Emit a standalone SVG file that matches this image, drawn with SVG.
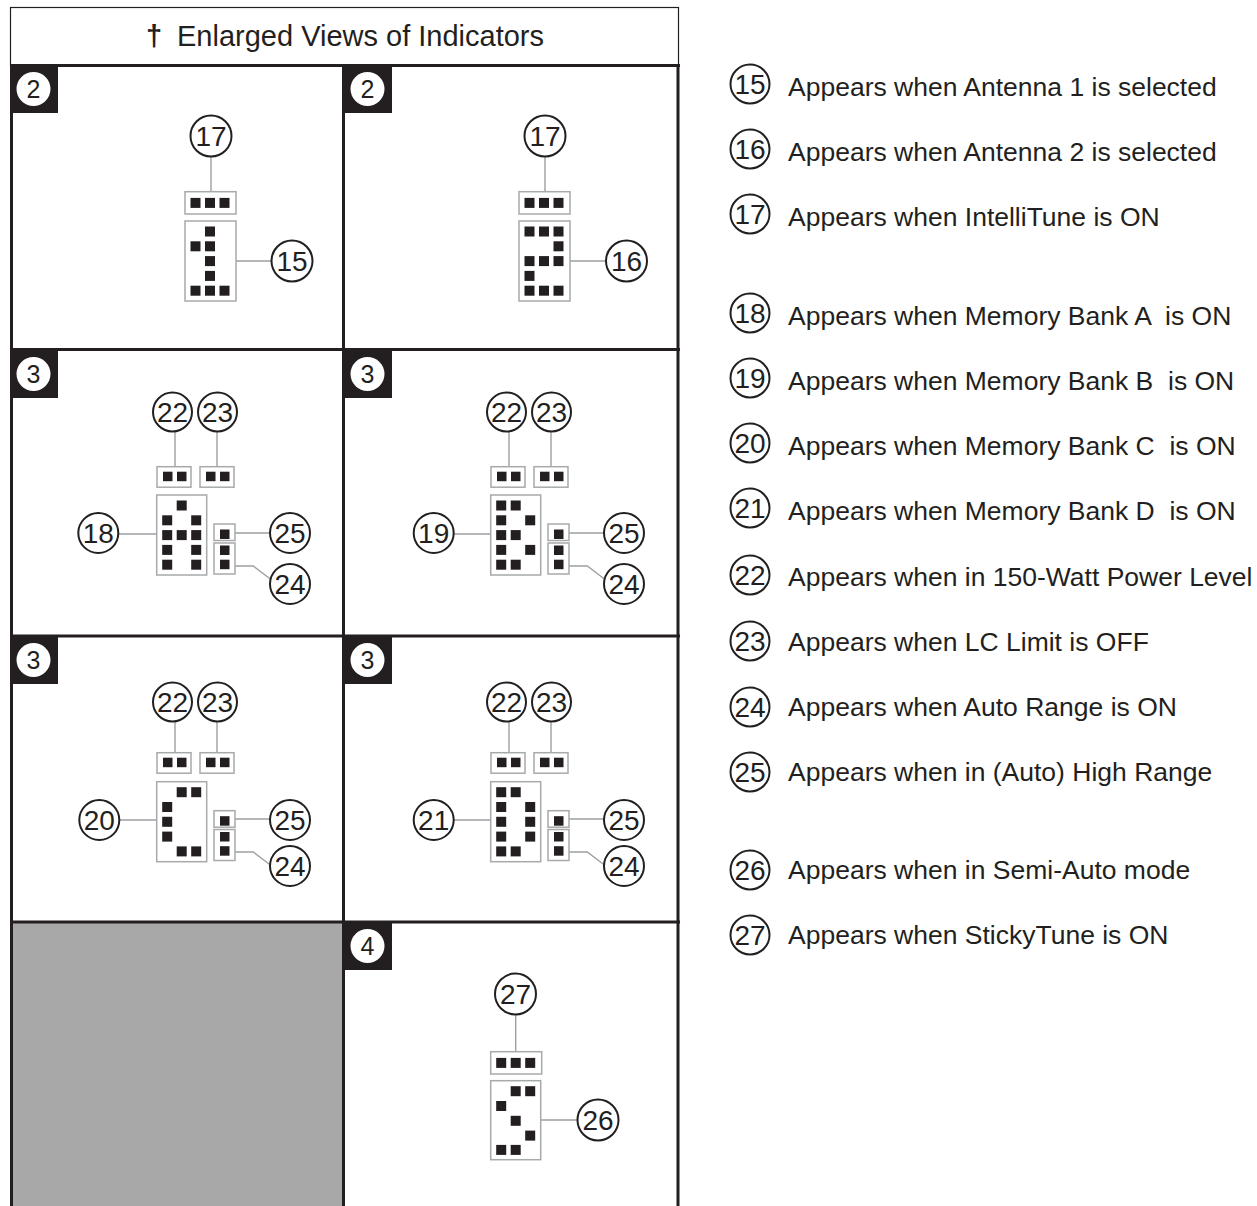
<svg xmlns="http://www.w3.org/2000/svg" xmlns:xlink="http://www.w3.org/1999/xlink" width="1257" height="1206" viewBox="0 0 1257 1206">
<style>
.t{font-family:"Liberation Sans",Arial,sans-serif;fill:#231f20}
.num{font-size:28px;text-anchor:middle}
.bn{font-size:25px;text-anchor:middle}
.leg{font-size:26.5px;white-space:pre}
.cir{fill:#fff;stroke:#231f20;stroke-width:2}
.box{fill:#fff;stroke:#a7a9ac;stroke-width:1.5}
.ln{stroke:#9d9fa2;stroke-width:1.4;fill:none}
.grid{stroke:#231f20;stroke-width:3;fill:none}
</style>
<defs>
<rect id="px" width="10" height="10" fill="#231f20"/>
<rect id="sp" width="9.5" height="9.5" fill="#231f20"/>
<g id="tri"><rect class="box" x="0" y="0" width="51" height="22.3"/><use href="#px" x="5.5" y="6.2"/><use href="#px" x="20" y="6.2"/><use href="#px" x="34.5" y="6.2"/></g>
<g id="duo"><rect class="box" x="0" y="0" width="34" height="20.5"/><use href="#sp" x="6" y="5"/><use href="#sp" x="20" y="5"/></g>
<g id="b25"><rect class="box" x="0" y="0" width="21" height="16.5"/><use href="#sp" x="6" y="5.5"/></g>
<g id="b24"><rect class="box" x="0" y="0" width="21" height="31"/><use href="#sp" x="6" y="2.5"/><use href="#sp" x="6" y="16.7"/></g>
<g id="d1"><rect class="box" x="0" y="0" width="51" height="80"/>
<use href="#px" x="20" y="5.5"/><use href="#px" x="5.5" y="20.3"/><use href="#px" x="20" y="20.3"/><use href="#px" x="20" y="35.1"/><use href="#px" x="20" y="49.9"/><use href="#px" x="5.5" y="64.7"/><use href="#px" x="20" y="64.7"/><use href="#px" x="34.5" y="64.7"/></g>
<g id="d2"><rect class="box" x="0" y="0" width="51" height="80"/>
<use href="#px" x="5.5" y="5.5"/><use href="#px" x="20" y="5.5"/><use href="#px" x="34.5" y="5.5"/><use href="#px" x="34.5" y="20.3"/><use href="#px" x="5.5" y="35.1"/><use href="#px" x="20" y="35.1"/><use href="#px" x="34.5" y="35.1"/><use href="#px" x="5.5" y="49.9"/><use href="#px" x="5.5" y="64.7"/><use href="#px" x="20" y="64.7"/><use href="#px" x="34.5" y="64.7"/></g>
<g id="dA"><rect class="box" x="0" y="0" width="50" height="80"/>
<use href="#px" x="20" y="5.5"/><use href="#px" x="5.5" y="20.3"/><use href="#px" x="34.5" y="20.3"/><use href="#px" x="5.5" y="35.1"/><use href="#px" x="20" y="35.1"/><use href="#px" x="34.5" y="35.1"/><use href="#px" x="5.5" y="49.9"/><use href="#px" x="34.5" y="49.9"/><use href="#px" x="5.5" y="64.7"/><use href="#px" x="34.5" y="64.7"/></g>
<g id="dB"><rect class="box" x="0" y="0" width="50" height="80"/>
<use href="#px" x="5.5" y="5.5"/><use href="#px" x="20" y="5.5"/><use href="#px" x="5.5" y="20.3"/><use href="#px" x="34.5" y="20.3"/><use href="#px" x="5.5" y="35.1"/><use href="#px" x="20" y="35.1"/><use href="#px" x="5.5" y="49.9"/><use href="#px" x="34.5" y="49.9"/><use href="#px" x="5.5" y="64.7"/><use href="#px" x="20" y="64.7"/></g>
<g id="dC"><rect class="box" x="0" y="0" width="50" height="80"/>
<use href="#px" x="20" y="5.5"/><use href="#px" x="34.5" y="5.5"/><use href="#px" x="5.5" y="20.3"/><use href="#px" x="5.5" y="35.1"/><use href="#px" x="5.5" y="49.9"/><use href="#px" x="20" y="64.7"/><use href="#px" x="34.5" y="64.7"/></g>
<g id="dD"><rect class="box" x="0" y="0" width="50" height="80"/>
<use href="#px" x="5.5" y="5.5"/><use href="#px" x="20" y="5.5"/><use href="#px" x="5.5" y="20.3"/><use href="#px" x="34.5" y="20.3"/><use href="#px" x="5.5" y="35.1"/><use href="#px" x="34.5" y="35.1"/><use href="#px" x="5.5" y="49.9"/><use href="#px" x="34.5" y="49.9"/><use href="#px" x="5.5" y="64.7"/><use href="#px" x="20" y="64.7"/></g>
<g id="dS"><rect class="box" x="0" y="0" width="50" height="79"/>
<use href="#px" x="20" y="5.5"/><use href="#px" x="34.5" y="5.5"/><use href="#px" x="5.5" y="20.3"/><use href="#px" x="20" y="35.1"/><use href="#px" x="34.5" y="49.9"/><use href="#px" x="5.5" y="64.2"/><use href="#px" x="20" y="64.2"/></g>
</defs>

<rect width="1257" height="1206" fill="#fff"/>

<g id="title">
<rect x="10.5" y="7.5" width="668" height="58" fill="#fff" stroke="#231f20" stroke-width="1.2"/>
<text class="t" x="146" y="46" font-size="29" font-weight="bold">†</text>
<text class="t" x="177" y="46" font-size="29">Enlarged Views of Indicators</text>
</g>

<g id="panel-grid">
<rect x="11.5" y="922" width="332" height="284" fill="#a8a8a8"/>
<path class="grid" d="M10 65.5H680M10 349.5H680M10 636H680M10 922H680M11.5 65V1206M343.5 65V1206M678 65V1206"/>
</g>

<g id="badges">
<g id="badge-p1"><rect x="10" y="65" width="48" height="48" fill="#231f20"/><circle cx="33.5" cy="89" r="17" fill="#fff"/><text class="t bn" x="33.5" y="98">2</text></g>
<g id="badge-p2"><rect x="344" y="65" width="48" height="48" fill="#231f20"/><circle cx="367.5" cy="89" r="17" fill="#fff"/><text class="t bn" x="367.5" y="98">2</text></g>
<g id="badge-p3"><rect x="10" y="350" width="48" height="48" fill="#231f20"/><circle cx="33.5" cy="374" r="17" fill="#fff"/><text class="t bn" x="33.5" y="383">3</text></g>
<g id="badge-p4"><rect x="344" y="350" width="48" height="48" fill="#231f20"/><circle cx="367.5" cy="374" r="17" fill="#fff"/><text class="t bn" x="367.5" y="383">3</text></g>
<g id="badge-p5"><rect x="10" y="636" width="48" height="48" fill="#231f20"/><circle cx="33.5" cy="660" r="17" fill="#fff"/><text class="t bn" x="33.5" y="669">3</text></g>
<g id="badge-p6"><rect x="344" y="636" width="48" height="48" fill="#231f20"/><circle cx="367.5" cy="660" r="17" fill="#fff"/><text class="t bn" x="367.5" y="669">3</text></g>
<g id="badge-p8"><rect x="344" y="922" width="48" height="48" fill="#231f20"/><circle cx="367.5" cy="946" r="17" fill="#fff"/><text class="t bn" x="367.5" y="955">4</text></g>
</g>

<g id="connectors">
<path class="ln" d="M211 156V191.7M236 261H272"/>
<path class="ln" d="M545 156V191.7M570 261H606"/>
<path class="ln" d="M175 432V466.7M217 432V466.7M235 533H270M235 566H253.3L271.7 580M118.3 534H156.7"/>
<path class="ln" d="M509 432V466.7M551 432V466.7M569 533H604M569 566H587.3L605.7 580M453.7 534H490.7"/>
<path class="ln" d="M175 722V752.7M217 722V752.7M235 819H270M235 852H253.3L271.7 866M119.3 820H156.7"/>
<path class="ln" d="M509 722V752.7M551 722V752.7M569 819H604M569 852H587.3L605.7 866M453.7 820H490.7"/>
<path class="ln" d="M515.7 1014V1051.7M540.7 1120H578"/>
</g>

<g id="p1">
<use href="#tri" x="185" y="191.7"/><use href="#d1" x="185" y="221"/>
<circle class="cir" cx="211" cy="136" r="20.5"/><text class="t num" x="211" y="146">17</text>
<circle class="cir" cx="292" cy="261" r="20.5"/><text class="t num" x="292" y="271">15</text>
</g>
<g id="p2">
<use href="#tri" x="519" y="191.7"/><use href="#d2" x="519" y="221"/>
<circle class="cir" cx="545" cy="136" r="20.5"/><text class="t num" x="545" y="146">17</text>
<circle class="cir" cx="626.5" cy="261" r="20.5"/><text class="t num" x="626.5" y="271">16</text>
</g>
<g id="p3">
<use href="#duo" x="157" y="466.7"/><use href="#duo" x="200" y="466.7"/>
<use href="#dA" x="156.7" y="495"/><use href="#b25" x="214" y="524"/><use href="#b24" x="214" y="543"/>
<circle class="cir" cx="172.5" cy="412" r="19.5"/><text class="t num" x="172.5" y="422">22</text>
<circle class="cir" cx="217.5" cy="412" r="19.5"/><text class="t num" x="217.5" y="422">23</text>
<circle class="cir" cx="98.3" cy="533" r="20"/><text class="t num" x="98.3" y="543">18</text>
<circle class="cir" cx="290" cy="533" r="20"/><text class="t num" x="290" y="543">25</text>
<circle class="cir" cx="290" cy="584" r="20"/><text class="t num" x="290" y="594">24</text>
</g>
<g id="p4">
<use href="#duo" x="491" y="466.7"/><use href="#duo" x="534" y="466.7"/>
<use href="#dB" x="490.7" y="495"/><use href="#b25" x="548" y="524"/><use href="#b24" x="548" y="543"/>
<circle class="cir" cx="506.5" cy="412" r="19.5"/><text class="t num" x="506.5" y="422">22</text>
<circle class="cir" cx="551.5" cy="412" r="19.5"/><text class="t num" x="551.5" y="422">23</text>
<circle class="cir" cx="433.7" cy="533" r="20"/><text class="t num" x="433.7" y="543">19</text>
<circle class="cir" cx="624" cy="533" r="20"/><text class="t num" x="624" y="543">25</text>
<circle class="cir" cx="624" cy="584" r="20"/><text class="t num" x="624" y="594">24</text>
</g>
<g id="p5">
<use href="#duo" x="157" y="752.7"/><use href="#duo" x="200" y="752.7"/>
<use href="#dC" x="156.7" y="781.7"/><use href="#b25" x="214" y="810.7"/><use href="#b24" x="214" y="829.5"/>
<circle class="cir" cx="172.5" cy="702" r="19.5"/><text class="t num" x="172.5" y="712">22</text>
<circle class="cir" cx="217.5" cy="702" r="19.5"/><text class="t num" x="217.5" y="712">23</text>
<circle class="cir" cx="99.3" cy="820" r="20"/><text class="t num" x="99.3" y="830">20</text>
<circle class="cir" cx="290" cy="820" r="20"/><text class="t num" x="290" y="830">25</text>
<circle class="cir" cx="290" cy="866" r="20"/><text class="t num" x="290" y="876">24</text>
</g>
<g id="p6">
<use href="#duo" x="491" y="752.7"/><use href="#duo" x="534" y="752.7"/>
<use href="#dD" x="490.7" y="781.7"/><use href="#b25" x="548" y="810.7"/><use href="#b24" x="548" y="829.5"/>
<circle class="cir" cx="506.5" cy="702" r="19.5"/><text class="t num" x="506.5" y="712">22</text>
<circle class="cir" cx="551.5" cy="702" r="19.5"/><text class="t num" x="551.5" y="712">23</text>
<circle class="cir" cx="433.7" cy="820" r="20"/><text class="t num" x="433.7" y="830">21</text>
<circle class="cir" cx="624" cy="820" r="20"/><text class="t num" x="624" y="830">25</text>
<circle class="cir" cx="624" cy="866" r="20"/><text class="t num" x="624" y="876">24</text>
</g>
<g id="p8">
<use href="#tri" x="490.7" y="1051.7"/><use href="#dS" x="490.7" y="1080.7"/>
<circle class="cir" cx="515.5" cy="994" r="20.5"/><text class="t num" x="515.5" y="1004">27</text>
<circle class="cir" cx="598" cy="1120" r="20.5"/><text class="t num" x="598" y="1130">26</text>
</g>

<g id="legend">
<g id="leg15"><circle class="cir" cx="750" cy="84" r="19.5"/><text class="t num" x="750" y="94">15</text><text class="t leg" x="788" y="96">Appears when Antenna 1 is selected</text></g>
<g id="leg16"><circle class="cir" cx="750" cy="149" r="19.5"/><text class="t num" x="750" y="159">16</text><text class="t leg" x="788" y="161">Appears when Antenna 2 is selected</text></g>
<g id="leg17"><circle class="cir" cx="750" cy="214" r="19.5"/><text class="t num" x="750" y="224">17</text><text class="t leg" x="788" y="226">Appears when IntelliTune is ON</text></g>
<g id="leg18"><circle class="cir" cx="750" cy="313" r="19.5"/><text class="t num" x="750" y="323">18</text><text class="t leg" x="788" y="325">Appears when Memory Bank A  is ON</text></g>
<g id="leg19"><circle class="cir" cx="750" cy="378" r="19.5"/><text class="t num" x="750" y="388">19</text><text class="t leg" x="788" y="390">Appears when Memory Bank B  is ON</text></g>
<g id="leg20"><circle class="cir" cx="750" cy="443" r="19.5"/><text class="t num" x="750" y="453">20</text><text class="t leg" x="788" y="455">Appears when Memory Bank C  is ON</text></g>
<g id="leg21"><circle class="cir" cx="750" cy="508" r="19.5"/><text class="t num" x="750" y="518">21</text><text class="t leg" x="788" y="520">Appears when Memory Bank D  is ON</text></g>
<g id="leg22"><circle class="cir" cx="750" cy="575" r="19.5"/><text class="t num" x="750" y="585">22</text><text class="t leg" x="788" y="586">Appears when in 150-Watt Power Level</text></g>
<g id="leg23"><circle class="cir" cx="750" cy="641" r="19.5"/><text class="t num" x="750" y="651">23</text><text class="t leg" x="788" y="651">Appears when LC Limit is OFF</text></g>
<g id="leg24"><circle class="cir" cx="750" cy="707" r="19.5"/><text class="t num" x="750" y="717">24</text><text class="t leg" x="788" y="716">Appears when Auto Range is ON</text></g>
<g id="leg25"><circle class="cir" cx="750" cy="772" r="19.5"/><text class="t num" x="750" y="782">25</text><text class="t leg" x="788" y="781">Appears when in (Auto) High Range</text></g>
<g id="leg26"><circle class="cir" cx="750" cy="870" r="19.5"/><text class="t num" x="750" y="880">26</text><text class="t leg" x="788" y="879">Appears when in Semi-Auto mode</text></g>
<g id="leg27"><circle class="cir" cx="750" cy="935" r="19.5"/><text class="t num" x="750" y="945">27</text><text class="t leg" x="788" y="944">Appears when StickyTune is ON</text></g>
</g>
</svg>
